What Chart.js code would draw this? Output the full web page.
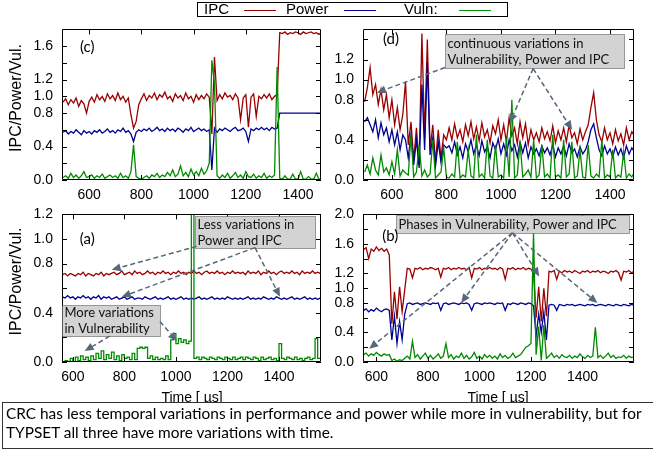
<!DOCTYPE html>
<html>
<head>
<meta charset="utf-8">
<script src="https://cdn.jsdelivr.net/npm/chart.js@4.4.0/dist/chart.umd.min.js"></script>
<style>
  body { margin: 0; width: 653px; height: 451px; overflow: hidden; background: #fff; position: relative; font-family: 'Liberation Sans', Arial, sans-serif; }
  canvas { position: absolute; }
  #legend { position: absolute; left: 197px; top: 2px; width: 309px; height: 13px; border: 1px solid #000; font-size: 15px; line-height: 14px; background: #fff; }
  #legend span { position: absolute; top: -1px; }
  #legend i { position: absolute; top: 7px; height: 0; border-top: 1px solid; }
  .xtitle { position: absolute; top: 389px; width: 160px; height: 16px; line-height: 16px; font-size: 14px; text-align: center; }
  #caption { position: absolute; left: 2px; top: 402px; width: 670px; height: 47px; border: 1px solid #333; background: #fff;
             font-family: Lato, 'Open Sans', sans-serif; font-size: 15.4px; line-height: 19px; padding: 1px 3px; box-sizing: border-box; }
</style>
</head>
<body>
<canvas id="chartC" width="330" height="188" style="left:0;top:12px"></canvas>
<canvas id="chartD" width="323" height="188" style="left:330px;top:12px"></canvas>
<canvas id="chartA" width="330" height="210" style="left:0;top:197px"></canvas>
<canvas id="chartB" width="323" height="210" style="left:330px;top:197px"></canvas>
<div id="legend">
  <span style="left:6px">IPC</span><i style="left:46px;width:32px;border-color:#990000"></i>
  <span style="left:88px">Power</span><i style="left:146px;width:32px;border-color:#000090"></i>
  <span style="left:206px">Vuln:</span><i style="left:261px;width:32px;border-color:#008a00"></i>
</div>
<div class="xtitle" style="left:112px">Time [ µs]</div>
<div class="xtitle" style="left:418px">Time [ µs]</div>
<div id="caption">CRC has less temporal variations in performance and power while more in vulnerability, but for<br>TYPSET all three have more variations with time.</div>
<script>
// Time grids (µs)
const topTime = [500,510,520,530,540,550,560,570,580,590,600,610,620,630,640,650,660,670,680,690,
  700,710,720,730,740,750,760,770,780,790,800,810,820,830,840,850,860,870,880,890,
  900,910,920,930,940,950,960,970,980,990,1000,1010,1020,1030,1040,1050,1060,1070,1080,1090,
  1100,1110,1120,1130,1140,1150,1160,1170,1180,1190,1200,1210,1220,1230,1240,1250,1260,1270,1280,1290,
  1300,1310,1320,1330,1340,1350,1360,1370,1380,1390,1400,1410,1420,1430,1440,1450,1460,1470,1480,1490];
const aTime = [560,570,580,590,600,610,620,630,640,650,660,670,680,690,700,710,720,730,740,750,
  760,770,780,790,800,810,820,830,840,850,860,870,880,890,900,910,920,930,940,950,
  960,970,980,990,1000,1010,1020,1030,1040,1050,1060,1070,1080,1090,1100,1110,1120,1130,1140,1150,
  1160,1170,1180,1190,1200,1210,1220,1230,1240,1250,1260,1270,1280,1290,1300,1310,1320,1330,1340,1350,
  1360,1370,1380,1390,1400,1410,1420,1430,1440,1450,1460,1470,1480,1490,1500,1510,1520,1530,1540,1550,1560];
const bTime = [550,560,570,580,590,600,610,620,630,640,650,660,670,680,690,700,710,720,730,740,
  750,760,770,780,790,800,810,820,830,840,850,860,870,880,890,900,910,920,930,940,
  950,960,970,980,990,1000,1010,1020,1030,1040,1050,1060,1070,1080,1090,1100,1110,1120,1130,1140,
  1150,1160,1170,1180,1190,1200,1210,1220,1230,1240,1250,1260,1270,1280,1290,1300,1310,1320,1330,1340,
  1350,1360,1370,1380,1390,1400,1410,1420,1430,1440,1450,1460,1470,1480,1490,1500,1510,1520,1530,1540,
  1550,1560,1570,1580,1590,1600];

// (c)
const cIpc = [0.93,0.97,0.90,0.96,0.92,0.98,0.88,0.95,0.91,0.80,
  0.94,0.99,0.93,1.02,0.96,1.00,0.94,1.03,0.97,1.01,
  0.95,1.04,0.96,1.00,0.93,0.98,0.78,0.62,0.70,0.90,
  0.97,1.03,0.95,1.01,0.98,1.04,0.96,1.02,0.99,1.05,
  0.97,1.00,0.94,1.03,0.98,1.01,0.95,1.04,0.97,1.00,
  0.93,1.02,0.96,1.01,0.97,1.03,0.99,0.55,1.47,0.95,
  1.02,0.97,1.04,0.99,1.01,0.96,1.03,0.98,0.72,0.98,
  1.02,0.63,0.99,1.03,0.76,1.00,0.97,1.02,0.98,1.03,
  0.96,1.00,1.02,1.76,1.75,1.77,1.74,1.76,1.75,1.77,
  1.76,1.74,1.77,1.75,1.76,1.77,1.75,1.76,1.74,1.76];
const cPow = [0.57,0.59,0.55,0.58,0.56,0.60,0.57,0.54,0.59,0.56,
  0.58,0.55,0.59,0.57,0.60,0.56,0.58,0.61,0.57,0.59,
  0.56,0.60,0.58,0.62,0.57,0.59,0.55,0.46,0.57,0.60,
  0.58,0.61,0.59,0.62,0.58,0.60,0.63,0.59,0.61,0.58,
  0.62,0.59,0.61,0.58,0.62,0.60,0.57,0.61,0.59,0.63,
  0.58,0.60,0.62,0.59,0.61,0.58,0.60,0.12,0.62,0.57,
  0.61,0.59,0.62,0.60,0.58,0.61,0.63,0.59,0.60,0.62,
  0.58,0.46,0.61,0.59,0.62,0.60,0.63,0.60,0.62,0.59,
  0.63,0.61,0.62,0.80,0.80,0.80,0.80,0.80,0.80,0.80,
  0.80,0.80,0.80,0.80,0.80,0.80,0.80,0.80,0.80,0.80];
const cVul = [0.03,0.05,0.02,0.08,0.03,0.06,0.02,0.05,0.10,0.03,
  0.04,0.06,0.02,0.05,0.03,0.07,0.02,0.04,0.06,0.03,
  0.05,0.02,0.08,0.03,0.05,0.02,0.10,0.42,0.04,0.02,
  0.01,0.03,0.05,0.02,0.06,0.04,0.08,0.03,0.06,0.04,
  0.09,0.05,0.12,0.04,0.07,0.17,0.05,0.09,0.04,0.13,
  0.06,0.10,0.05,0.14,0.07,0.11,0.20,1.43,1.15,0.05,
  0.02,0.06,0.03,0.08,0.02,0.05,0.09,0.03,0.06,0.02,
  0.10,0.04,0.03,0.07,0.02,0.05,0.03,0.08,0.02,0.05,
  0.03,0.06,1.35,0.02,0.01,0.05,0.01,0.01,0.07,0.01,
  0.01,0.10,0.01,0.01,0.04,0.01,0.01,0.08,0.01,0.01];

// (d)
const dIpc = [0.78,0.92,1.12,0.85,0.95,0.75,0.90,0.70,0.85,0.62,
  0.80,0.55,0.72,0.50,0.65,0.98,0.35,0.58,0.20,0.52,
  0.15,1.46,0.42,1.40,0.30,0.55,0.18,0.50,0.22,0.45,
  0.40,0.52,0.40,0.56,0.42,0.50,0.38,0.55,0.44,0.58,
  0.41,0.53,0.39,0.57,0.43,0.50,0.37,0.54,0.46,0.60,
  0.40,0.55,0.38,0.62,0.44,0.52,0.36,0.58,0.42,0.56,
  0.35,0.50,0.40,0.47,0.38,0.52,0.41,0.48,0.39,0.54,
  0.37,0.49,0.40,0.52,0.38,0.55,0.42,0.47,0.36,0.51,
  0.40,0.48,0.55,0.72,0.87,0.60,0.45,0.38,0.52,0.40,
  0.47,0.36,0.50,0.39,0.46,0.35,0.52,0.40,0.48,0.44];
const dPow = [0.58,0.62,0.55,0.48,0.60,0.42,0.57,0.45,0.52,0.38,
  0.50,0.35,0.48,0.30,0.45,0.40,0.22,0.45,0.15,0.40,
  0.12,0.95,0.30,1.17,0.25,0.42,0.14,0.38,0.18,0.35,
  0.32,0.34,0.27,0.38,0.25,0.33,0.22,0.36,0.28,0.40,
  0.26,0.35,0.24,0.39,0.28,0.33,0.22,0.37,0.30,0.41,
  0.26,0.36,0.25,0.40,0.29,0.35,0.23,0.38,0.27,0.37,
  0.22,0.33,0.26,0.31,0.24,0.34,0.27,0.32,0.25,0.35,
  0.23,0.32,0.26,0.34,0.24,0.36,0.27,0.31,0.23,0.33,
  0.26,0.30,0.38,0.50,0.56,0.42,0.30,0.24,0.34,0.26,
  0.31,0.23,0.33,0.25,0.31,0.22,0.34,0.26,0.32,0.28];
const dVul = [0.08,0.15,0.06,0.22,0.10,0.05,0.25,0.08,0.12,0.05,
  0.18,0.06,0.30,0.04,0.10,0.07,0.05,0.45,0.03,0.08,
  0.35,0.04,0.10,0.03,0.06,0.40,0.02,0.05,0.08,0.32,
  0.03,0.02,0.06,0.03,0.38,0.02,0.05,0.03,0.30,0.04,
  0.02,0.45,0.03,0.06,0.02,0.40,0.04,0.02,0.35,0.03,
  0.05,0.02,0.42,0.03,0.80,0.02,0.05,0.38,0.03,0.06,
  0.10,0.03,0.40,0.02,0.05,0.35,0.03,0.06,0.02,0.45,
  0.03,0.05,0.02,0.40,0.03,0.06,0.38,0.02,0.04,0.30,
  0.03,0.02,0.35,0.04,0.02,0.06,0.03,0.40,0.02,0.05,
  0.03,0.30,0.02,0.05,0.03,0.28,0.02,0.06,0.03,0.08];

// (a)
const aIpc = [0.71,0.72,0.70,0.72,0.71,0.70,0.72,0.71,0.73,0.70,
  0.72,0.71,0.70,0.72,0.71,0.73,0.70,0.72,0.71,0.72,
  0.73,0.71,0.72,0.74,0.71,0.72,0.73,0.71,0.74,0.72,
  0.73,0.71,0.72,0.74,0.72,0.73,0.71,0.73,0.72,0.74,
  0.72,0.73,0.71,0.73,0.72,0.74,0.72,0.73,0.71,0.73,
  0.72,0.74,0.72,0.73,0.71,0.73,0.74,0.72,0.73,0.72,
  0.74,0.72,0.73,0.71,0.73,0.72,0.74,0.72,0.73,0.72,
  0.73,0.71,0.74,0.72,0.73,0.72,0.74,0.71,0.73,0.72,
  0.74,0.72,0.73,0.71,0.73,0.74,0.72,0.73,0.72,0.74,
  0.72,0.73,0.71,0.74,0.72,0.73,0.72,0.74,0.72,0.73,0.72];
const aPow = [0.53,0.52,0.54,0.52,0.53,0.51,0.53,0.52,0.54,0.52,
  0.53,0.51,0.53,0.52,0.54,0.51,0.53,0.52,0.53,0.51,
  0.52,0.53,0.51,0.52,0.53,0.51,0.52,0.53,0.51,0.52,
  0.52,0.51,0.53,0.52,0.51,0.52,0.53,0.51,0.52,0.51,
  0.52,0.53,0.51,0.52,0.51,0.52,0.53,0.51,0.52,0.51,
  0.52,0.51,0.52,0.53,0.51,0.52,0.51,0.52,0.53,0.51,
  0.52,0.51,0.52,0.51,0.53,0.52,0.51,0.52,0.51,0.52,
  0.51,0.52,0.53,0.51,0.52,0.51,0.52,0.51,0.53,0.52,
  0.51,0.52,0.51,0.53,0.52,0.51,0.52,0.51,0.52,0.53,
  0.51,0.52,0.51,0.52,0.53,0.51,0.52,0.51,0.52,0.51,0.52];
const aVul = [0.00,0.01,0.00,0.03,0.00,0.04,0.01,0.05,0.02,0.04,
  0.01,0.05,0.02,0.07,0.03,0.09,0.02,0.06,0.03,0.08,
  0.02,0.05,0.01,0.06,0.03,0.04,0.02,0.07,0.02,0.11,
  0.12,0.11,0.12,0.03,0.05,0.02,0.04,0.02,0.03,0.02,
  0.05,0.02,0.18,0.23,0.15,0.19,0.16,0.18,0.15,0.17,
  1.25,0.03,0.04,0.02,0.04,0.03,0.02,0.04,0.03,0.02,
  0.04,0.03,0.02,0.04,0.03,0.02,0.04,0.02,0.03,0.04,
  0.02,0.04,0.03,0.02,0.04,0.03,0.01,0.04,0.02,0.03,
  0.04,0.02,0.03,0.01,0.15,0.03,0.02,0.04,0.03,0.02,
  0.04,0.02,0.03,0.01,0.03,0.04,0.02,0.03,0.19,0.03,0.03];

// (b)
const bIpc = [1.52,1.55,1.40,1.53,1.50,1.56,1.51,1.54,1.50,1.53,
  1.45,0.52,0.95,0.58,1.02,0.68,0.98,1.27,1.26,1.14,
  1.27,1.26,1.28,1.25,1.27,1.26,1.28,1.27,1.25,1.27,
  1.15,1.27,1.26,1.28,1.25,1.27,1.26,1.28,1.26,1.27,
  1.25,1.28,1.14,1.27,1.26,1.28,1.25,1.27,1.26,1.28,
  1.26,1.27,1.25,1.28,1.26,1.12,1.27,1.26,1.28,1.25,
  1.27,1.26,1.28,1.25,1.27,1.26,1.20,0.60,1.02,0.55,
  1.00,0.62,1.23,1.22,1.24,1.12,1.23,1.21,1.24,1.22,
  1.23,1.21,1.24,1.22,1.20,1.23,1.22,1.24,1.21,1.23,
  1.22,1.24,1.21,1.23,1.22,1.20,1.23,1.22,1.24,1.21,
  1.11,1.23,1.22,1.24,1.21,1.23];
const bPow = [0.70,0.72,0.68,0.71,0.69,0.73,0.70,0.68,0.71,0.72,
  0.70,0.30,0.62,0.25,0.55,0.30,0.65,0.79,0.80,0.78,
  0.79,0.80,0.78,0.79,0.80,0.79,0.78,0.80,0.79,0.80,
  0.70,0.79,0.80,0.78,0.79,0.80,0.79,0.78,0.80,0.79,
  0.80,0.78,0.70,0.79,0.80,0.79,0.78,0.80,0.79,0.80,
  0.79,0.78,0.80,0.79,0.80,0.70,0.79,0.78,0.80,0.79,
  0.78,0.80,0.79,0.78,0.80,0.79,0.76,0.35,0.65,0.40,
  0.68,0.30,0.77,0.78,0.77,0.70,0.78,0.77,0.76,0.78,
  0.77,0.78,0.76,0.77,0.78,0.77,0.76,0.78,0.77,0.78,
  0.76,0.77,0.78,0.77,0.76,0.78,0.77,0.76,0.78,0.77,
  0.76,0.78,0.77,0.76,0.78,0.77];
const bVul = [0.10,0.12,0.08,0.11,0.09,0.13,0.10,0.08,0.11,0.09,
  0.10,0.02,0.04,0.01,0.03,0.02,0.05,0.08,0.04,0.28,
  0.06,0.10,0.04,0.08,0.12,0.05,0.09,0.04,0.07,0.11,
  0.05,0.08,0.25,0.06,0.10,0.04,0.08,0.06,0.12,0.05,
  0.09,0.04,0.07,0.13,0.05,0.08,0.04,0.10,0.06,0.09,
  0.05,0.08,0.04,0.11,0.06,0.09,0.05,0.07,0.12,0.06,
  0.08,0.10,0.15,0.20,0.22,0.25,1.75,0.10,0.48,0.02,
  0.50,0.05,0.08,0.12,0.06,0.09,0.05,0.10,0.07,0.06,
  0.09,0.05,0.08,0.06,0.11,0.07,0.05,0.09,0.06,0.08,
  0.47,0.06,0.09,0.05,0.08,0.12,0.06,0.09,0.05,0.07,
  0.06,0.09,0.05,0.08,0.06,0.07];

const xTickVals = [600, 800, 1000, 1200, 1400];
const cYTicks = [0, 0.2, 0.4, 0.6, 0.8, 1.0, 1.2, 1.4, 1.6];
const cYLabels = [0, 0.4, 0.8, 1.0, 1.2, 1.6];
const dYTicks = [0, 0.2, 0.4, 0.6, 0.8, 1.0, 1.2, 1.4];
const dYLabels = [0, 0.4, 0.8, 1.0, 1.2];
const aYTicks = [0, 0.2, 0.4, 0.6, 0.8, 1.0, 1.2];
const aYLabels = [0, 0.4, 0.8, 1.0, 1.2];
const bYTicks = [0, 0.2, 0.4, 0.6, 0.8, 1.0, 1.2, 1.4, 1.6, 1.8, 2.0];
const bYLabels = [0, 0.4, 0.8, 1.0, 1.2, 1.6, 2.0];

// annotations (data units)
const annC = { tag: { x: 565, y: 1.59, text: '(c)' }, boxes: [], arrows: [] };
const annD = {
  tag: { x: 567, y: 1.40, text: '(d)' },
  boxes: [{ x1: 795, x2: 1452, y1: 1.45, y2: 1.12, lines: ['continuous variations in', 'Vulnerability, Power and IPC'] }],
  arrows: [[795, 1.12, 545, 0.87], [1118, 1.11, 1033, 0.57], [1118, 1.11, 1261, 0.50]]
};
const annA = {
  tag: { x: 627, y: 1.0, text: '(a)' },
  boxes: [
    { x1: 1073, x2: 1540, y1: 1.19, y2: 0.93, lines: ['Less variations in', 'Power and IPC'] },
    { x1: 558, x2: 938, y1: 0.46, y2: 0.21, lines: ['More variations', 'in Vulnerability'] }
  ],
  arrows: [[1081, 0.94, 751, 0.75], [1307, 0.93, 790, 0.53], [1307, 0.93, 1404, 0.53],
           [743, 0.21, 646, 0.09], [938, 0.33, 1004, 0.17]]
};
const annB = {
  tag: { x: 623, y: 1.70, text: '(b)' },
  boxes: [{ x1: 677, x2: 1582, y1: 1.99, y2: 1.75, lines: ['Phases in Vulnerability, Power and IPC'] }],
  arrows: [[1128, 1.75, 572, 0.18], [1128, 1.75, 929, 0.80], [1128, 1.75, 1232, 1.16], [1128, 1.75, 1458, 0.80]]
};

const RED = '#990000', BLUE = '#000090', GREEN = '#008a00';

// frame, inward ticks and callouts
const framePlugin = {
  id: 'frame',
  afterDatasetsDraw(chart, args, opts) {
    const { ctx, chartArea: a, scales: { x, y } } = chart;
    ctx.save();
    ctx.strokeStyle = '#000';
    ctx.lineWidth = 1;
    ctx.beginPath();
    ctx.rect(Math.round(a.left) + 0.5, Math.round(a.top) + 0.5, Math.round(a.right - a.left) - 1, Math.round(a.bottom - a.top) - 1);
    y.ticks.forEach(t => {
      const p = Math.round(y.getPixelForValue(t.value)) + 0.5;
      ctx.moveTo(a.left, p); ctx.lineTo(a.left + 5, p);
      ctx.moveTo(a.right - 5, p); ctx.lineTo(a.right, p);
    });
    x.ticks.forEach(t => {
      const p = Math.round(x.getPixelForValue(t.value)) + 0.5;
      ctx.moveTo(p, a.bottom); ctx.lineTo(p, a.bottom - 5);
      ctx.moveTo(p, a.top); ctx.lineTo(p, a.top + 5);
    });
    ctx.stroke();

    const ann = opts.ann;
    // boxes
    ann.boxes.forEach(b => {
      const x1 = Math.round(x.getPixelForValue(b.x1)) + 0.5, x2 = Math.round(x.getPixelForValue(b.x2)) + 0.5;
      const y1 = Math.round(y.getPixelForValue(b.y1)) + 0.5, y2 = Math.round(y.getPixelForValue(b.y2)) + 0.5;
      ctx.fillStyle = '#d3d3d3';
      ctx.fillRect(x1, y1, x2 - x1, y2 - y1);
      ctx.setLineDash([1, 1]);
      ctx.strokeStyle = '#444';
      ctx.strokeRect(x1, y1, x2 - x1, y2 - y1);
      ctx.setLineDash([]);
      ctx.fillStyle = '#111';
      ctx.font = '13px Lato, "Open Sans", sans-serif';
      ctx.textBaseline = 'middle';
      ctx.textAlign = 'left';
      const mid = (y1 + y2) / 2, gap = 16;
      b.lines.forEach((ln, i) => {
        ctx.fillText(ln, x1 + 2, mid + (i - (b.lines.length - 1) / 2) * gap);
      });
    });
    // arrows
    ctx.strokeStyle = '#56687a';
    ctx.fillStyle = '#56687a';
    ctx.lineWidth = 1.5;
    ann.arrows.forEach(([ax, ay, bx, by]) => {
      const px1 = x.getPixelForValue(ax), py1 = y.getPixelForValue(ay);
      const px2 = x.getPixelForValue(bx), py2 = y.getPixelForValue(by);
      const ang = Math.atan2(py2 - py1, px2 - px1), L = 9, W = 4;
      const hx = px2 - L * Math.cos(ang), hy = py2 - L * Math.sin(ang);
      ctx.setLineDash([5, 3]);
      ctx.beginPath(); ctx.moveTo(px1, py1); ctx.lineTo(hx, hy); ctx.stroke();
      ctx.setLineDash([]);
      ctx.beginPath();
      ctx.moveTo(px2, py2);
      ctx.lineTo(hx + W * Math.sin(ang), hy - W * Math.cos(ang));
      ctx.lineTo(hx - W * Math.sin(ang), hy + W * Math.cos(ang));
      ctx.closePath(); ctx.fill();
    });
    // panel tag
    ctx.fillStyle = '#000';
    ctx.font = '15px Lato, "Open Sans", sans-serif';
    ctx.textAlign = 'left';
    ctx.textBaseline = 'middle';
    ctx.fillText(ann.tag.text, x.getPixelForValue(ann.tag.x), y.getPixelForValue(ann.tag.y));
    ctx.restore();
  }
};

function series(time, vals) {
  return time.map((t, i) => ({ x: t, y: vals[i] }));
}

function makePanel(p) {
  const ds = (label, vals, color, order, stepped) => ({
    label, data: series(p.time, vals), borderColor: color, borderWidth: 1.3,
    pointRadius: 0, tension: 0, order, stepped: stepped || false
  });
  new Chart(document.getElementById(p.id), {
    type: 'line',
    data: {
      datasets: [
        ds('IPC', p.ipc, RED, 3),
        ds('Power', p.pow, BLUE, 2),
        ds('Vuln:', p.vul, GREEN, 1, p.stepVul ? 'before' : false)
      ]
    },
    options: {
      responsive: false,
      devicePixelRatio: 1,
      animation: false,
      layout: { autoPadding: false, padding: { left: 0, top: p.padT, right: p.padR, bottom: 0 } },
      plugins: { legend: { display: false }, tooltip: { enabled: false }, frame: { ann: p.ann } },
      scales: {
        x: {
          type: 'linear', min: p.xMin, max: p.xMax,
          grid: { display: false, drawTicks: false }, border: { display: false },
          afterBuildTicks: s => { s.ticks = xTickVals.map(v => ({ value: v })); },
          afterFit: s => { s.height = p.xH; },
          ticks: { autoSkip: false, maxRotation: 0, padding: 7, color: '#000',
                   font: { family: 'Liberation Sans', size: 14 }, callback: v => String(v) }
        },
        y: {
          min: 0, max: p.yMax,
          grid: { display: false, drawTicks: false }, border: { display: false },
          afterBuildTicks: s => { s.ticks = p.yTicks.map(v => ({ value: v })); },
          afterFit: s => { s.width = p.yW; },
          ticks: { autoSkip: false, padding: 9, color: '#000',
                   font: { family: 'Liberation Sans', size: 14 },
                   callback: v => p.yLabels.some(l => Math.abs(l - v) < 1e-6) ? v.toFixed(1) : '' },
          title: { display: p.yTitle, text: '   IPC/Power/Vul.', color: '#000',
                   font: { family: 'Liberation Sans', size: 16 }, padding: { top: 7, bottom: 0 } }
        }
      }
    },
    plugins: [framePlugin]
  });
}

makePanel({ id: 'chartC', time: topTime, ipc: cIpc, pow: cPow, vul: cVul, xMin: 496, xMax: 1488, yMax: 1.8,
  yTicks: cYTicks, yLabels: cYLabels, yW: 62, xH: 20, padT: 10, padR: 9, yTitle: true, ann: annC });
makePanel({ id: 'chartD', time: topTime, ipc: dIpc, pow: dPow, vul: dVul, xMin: 494, xMax: 1488, yMax: 1.5,
  yTicks: dYTicks, yLabels: dYLabels, yW: 33, xH: 20, padT: 10, padR: 19, yTitle: false, ann: annD });
makePanel({ id: 'chartA', time: aTime, ipc: aIpc, pow: aPow, vul: aVul, xMin: 558, xMax: 1563, yMax: 1.2,
  yTicks: aYTicks, yLabels: aYLabels, yW: 62, xH: 45, padT: 10, padR: 9, yTitle: true, ann: annA, stepVul: true });
makePanel({ id: 'chartB', time: bTime, ipc: bIpc, pow: bPow, vul: bVul, xMin: 548, xMax: 1600, yMax: 2.0,
  yTicks: bYTicks, yLabels: bYLabels, yW: 33, xH: 45, padT: 10, padR: 19, yTitle: false, ann: annB });
</script>
</body>
</html>
